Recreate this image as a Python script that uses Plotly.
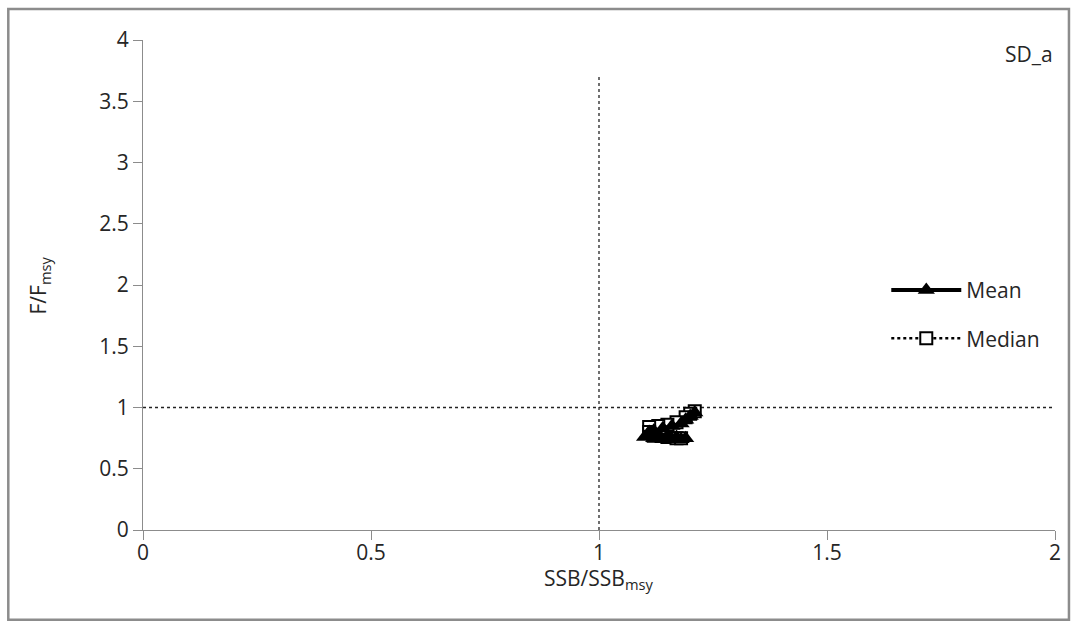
import plotly.graph_objects as go

# Stock trajectory: SSB/SSBmsy (x) against F/Fmsy (y)
mean_ssb = [1.21, 1.20, 1.19, 1.18, 1.16, 1.14, 1.12, 1.11, 1.11, 1.10, 1.12, 1.14,
            1.16, 1.18, 1.19, 1.17, 1.15, 1.13, 1.11]
mean_f = [0.96, 0.93, 0.90, 0.87, 0.85, 0.83, 0.81, 0.80, 0.78, 0.76, 0.75, 0.74,
          0.74, 0.74, 0.75, 0.76, 0.77, 0.77, 0.78]

median_ssb = [1.21, 1.20, 1.19, 1.17, 1.15, 1.13, 1.11, 1.11, 1.12, 1.15, 1.17, 1.18]
median_f = [0.97, 0.95, 0.92, 0.88, 0.86, 0.85, 0.84, 0.80, 0.77, 0.76, 0.75, 0.75]

# Reference lines at SSB = SSBmsy and F = Fmsy
ref_v_x = [1, 1]
ref_v_y = [0, 3.72]
ref_h_x = [0, 2]
ref_h_y = [1, 1]

x_ticks = [0, 0.5, 1, 1.5, 2]
y_ticks = [0, 0.5, 1, 1.5, 2, 2.5, 3, 3.5, 4]

FONT = "Open Sans"
TXT = "#262626"
FS = 21

fig = go.Figure()

fig.add_trace(go.Scatter(x=ref_v_x, y=ref_v_y, mode="lines",
                         line=dict(color="#222222", width=1.3, dash="dot"),
                         showlegend=False, hoverinfo="skip"))
fig.add_trace(go.Scatter(x=ref_h_x, y=ref_h_y, mode="lines",
                         line=dict(color="#222222", width=1.3, dash="dot"),
                         showlegend=False, hoverinfo="skip"))

fig.add_trace(go.Scatter(x=median_ssb, y=median_f, mode="lines+markers", name="Median",
                         legendgroup="median", legendrank=2,
                         line=dict(color="black", width=2.5, dash="dot"),
                         marker=dict(symbol="square", size=12, color="white",
                                     line=dict(color="black", width=2))))
fig.add_trace(go.Scatter(x=mean_ssb, y=mean_f, mode="lines+markers", name="Mean",
                         legendgroup="mean", legendrank=1,
                         line=dict(color="black", width=4),
                         marker=dict(symbol="triangle-up", size=15, color="black")))

fig.update_xaxes(range=[0, 2], tickvals=x_ticks, ticktext=[f"{v:g}" for v in x_ticks],
                 showgrid=False, zeroline=False, showline=True, linecolor="#8c8c8c",
                 linewidth=1, ticks="outside", ticklen=9, tickcolor="#8c8c8c",
                 ticklabelstandoff=-5,
                 tickfont=dict(family=FONT, size=FS, color=TXT))
fig.update_yaxes(range=[0, 4], tickvals=y_ticks, ticktext=[f"{v:g}" for v in y_ticks],
                 showgrid=False, zeroline=False, showline=True, linecolor="#8c8c8c",
                 linewidth=1, ticks="outside", ticklen=9, tickcolor="#8c8c8c",
                 tickfont=dict(family=FONT, size=FS, color=TXT))

fig.update_layout(
    width=1073, height=622,
    margin=dict(l=143, r=16, t=40, b=92),
    paper_bgcolor="white", plot_bgcolor="white",
    font=dict(family=FONT, size=FS, color=TXT),
    legend=dict(x=0.815, y=0.44, xanchor="left", yanchor="middle",
                bgcolor="rgba(0,0,0,0)", itemwidth=70, tracegroupgap=18,
                font=dict(family=FONT, size=FS, color=TXT)),
    annotations=[
        dict(text="SD_a", xref="paper", yref="paper", x=1.0, y=1.005,
             xanchor="right", yanchor="top", showarrow=False,
             font=dict(family=FONT, size=FS, color=TXT)),
        dict(text="SSB/SSB<sub>msy</sub>", xref="paper", yref="paper",
             x=0.5, y=-0.1, xanchor="center", yanchor="middle", showarrow=False,
             font=dict(family=FONT, size=FS, color=TXT)),
        dict(text="F/F<sub>msy</sub>", xref="paper", yref="paper", textangle=-90,
             x=-0.1135, y=0.5, xanchor="center", yanchor="middle", showarrow=False,
             font=dict(family=FONT, size=FS, color=TXT)),
    ],
    shapes=[dict(type="rect", xref="paper", yref="paper",
                 x0=-0.1477, x1=1.0153, y0=-0.1833, y1=1.0633,
                 line=dict(color="#8c8c8c", width=2.5), fillcolor="rgba(0,0,0,0)")],
)

fig.write_html("out.html")
